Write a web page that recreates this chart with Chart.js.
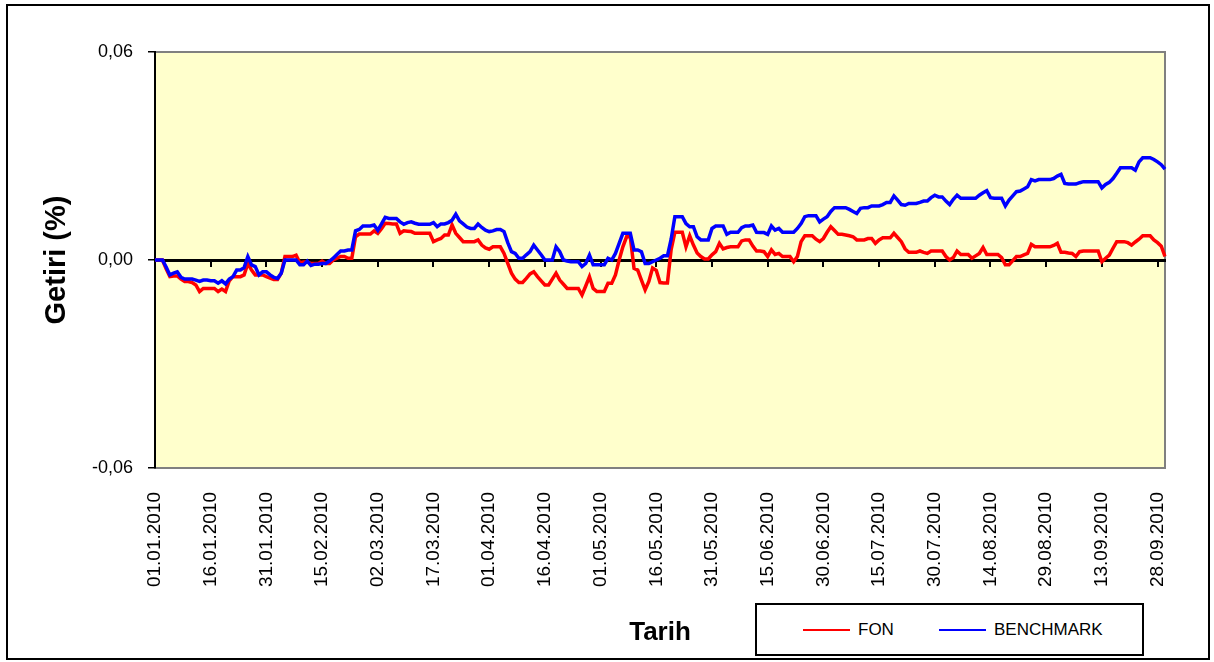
<!DOCTYPE html>
<html>
<head>
<meta charset="utf-8">
<script src="https://cdn.jsdelivr.net/npm/chart.js@4/dist/chart.umd.min.js"></script>
<style>
  html, body { margin: 0; padding: 0; background: #fff; }
  #wrap { position: relative; width: 1214px; height: 662px; background: #fff; overflow: hidden; }
  #c { position: absolute; left: 0; top: 0; }
  #frame { position: absolute; left: 6px; top: 4px; width: 1204px; height: 656px; box-sizing: border-box; border: 2px solid #000; pointer-events: none; }
  #legend { position: absolute; left: 755px; top: 603px; width: 389px; height: 53px; box-sizing: border-box; border: 2px solid #000; background: #fff;
            font-family: "Liberation Sans", Arial, sans-serif; font-size: 17px; color: #000; }
  .li { position: absolute; top: 0; height: 100%; display: flex; align-items: center; }
  .sw { display: inline-block; width: 47px; height: 2px; margin-right: 8px; }
</style>
</head>
<body>
<div id="wrap">
  <canvas id="c" width="1214" height="662"></canvas>
  <div id="frame"></div>
  <div id="legend">
    <div class="li" style="left:46px"><span class="sw" style="background:#ff0000"></span><span>FON</span></div>
    <div class="li" style="left:182px"><span class="sw" style="background:#0000ff"></span><span>BENCHMARK</span></div>
  </div>
</div>
<script>
// ---- data ----
const startDate = '2010-01-01';
const dayCount = 273; // 01.01.2010 .. 30.09.2010, daily
const tickEvery = 15;
const tickLabels = ['01.01.2010','16.01.2010','31.01.2010','15.02.2010','02.03.2010','17.03.2010','01.04.2010','16.04.2010','01.05.2010','16.05.2010','31.05.2010','15.06.2010','30.06.2010','15.07.2010','30.07.2010','14.08.2010','29.08.2010','13.09.2010','28.09.2010'];
const yTicks = [-0.06, 0, 0.06];

const fon = [0,0,0,-0.0025,-0.0048,-0.0046,-0.0046,-0.0055,-0.0062,-0.0062,
 -0.0065,-0.0072,-0.0091,-0.0082,-0.0082,-0.0082,-0.0082,-0.0091,-0.0084,-0.0091,
 -0.0060,-0.0048,-0.0048,-0.0048,-0.0043,-0.0010,-0.0029,-0.0043,-0.0043,-0.0043,
 -0.0048,-0.0052,-0.0056,-0.0056,-0.0038,0.0010,0.0010,0.0010,0.0014,-0.0008,
 -0.0006,-0.0005,-0.0010,-0.0010,-0.0010,-0.0003,-0.0010,-0.0010,0,0.0005,
 0.0010,0.0010,0.0005,0.0005,0.0067,0.0075,0.0075,0.0075,0.0075,0.0084,
 0.0077,0.0090,0.0106,0.0105,0.0104,0.0104,0.0077,0.0084,0.0083,0.0082,
 0.0077,0.0077,0.0077,0.0077,0.0077,0.0053,0.0058,0.0062,0.0072,0.0072,
 0.0101,0.0077,0.0065,0.0053,0.0053,0.0053,0.0053,0.0058,0.0043,0.0035,
 0.0031,0.0038,0.0038,0.0038,0.0019,-0.0010,-0.0038,-0.0055,-0.0065,-0.0065,
 -0.0053,-0.0040,-0.0034,-0.0048,-0.0060,-0.0072,-0.0072,-0.0055,-0.0038,-0.0058,
 -0.0070,-0.0082,-0.0082,-0.0082,-0.0082,-0.0101,-0.0075,-0.0048,-0.0082,-0.0091,
 -0.0091,-0.0091,-0.0067,-0.0067,-0.0043,0,0.0038,0.0067,0.0067,-0.0024,
 -0.0029,-0.0058,-0.0086,-0.0062,-0.0023,-0.0030,-0.0065,-0.0066,-0.0066,0.0030,
 0.0080,0.0080,0.0080,0.0038,0.0070,0.0043,0.0020,0.0010,0.0003,0.0003,
 0.0015,0.0024,0.0048,0.0032,0.0036,0.0038,0.0038,0.0038,0.0055,0.0058,
 0.0058,0.0040,0.0026,0.0026,0.0024,0.0010,0.0029,0.0016,0.0019,0.0010,
 0.0010,0.0010,-0.0005,0.0010,0.0053,0.0070,0.0070,0.0070,0.0060,0.0053,
 0.0062,0.0080,0.0096,0.0085,0.0074,0.0074,0.0072,0.0070,0.0067,0.0058,
 0.0058,0.0058,0.0062,0.0062,0.0048,0.0058,0.0064,0.0064,0.0064,0.0077,
 0.0065,0.0053,0.0032,0.0022,0.0022,0.0022,0.0026,0.0022,0.0019,0.0026,
 0.0026,0.0026,0.0026,0.0010,0,0.0007,0.0026,0.0016,0.0016,0.0016,
 0.0005,0.0012,0.0019,0.0036,0.0016,0.0016,0.0016,0.0016,0.0007,-0.0014,
 -0.0014,-0.0002,0.0010,0.0010,0.0015,0.0019,0.0045,0.0038,0.0038,0.0038,
 0.0038,0.0038,0.0042,0.0048,0.0022,0.0022,0.0020,0.0019,0.0010,0.0024,
 0.0026,0.0026,0.0026,0.0026,0.0026,-0.0005,0.0005,0.0014,0.0034,0.0053,
 0.0053,0.0053,0.0050,0.0043,0.0052,0.0060,0.0070,0.0070,0.0070,0.0058,
 0.0050,0.0040,0.0010];

const benchmark = [0,0,0,-0.0020,-0.0043,-0.0038,-0.0034,-0.0050,-0.0055,-0.0055,
 -0.0055,-0.0058,-0.0062,-0.0058,-0.0058,-0.0060,-0.0060,-0.0067,-0.0060,-0.0069,
 -0.0055,-0.0048,-0.0029,-0.0029,-0.0022,0.0010,-0.0014,-0.0019,-0.0043,-0.0034,
 -0.0034,-0.0043,-0.0050,-0.0053,-0.0038,0,0,0,0,-0.0014,
 -0.0014,-0.0003,-0.0016,-0.0012,-0.0012,-0.0010,-0.0010,-0.0003,0.0005,0.0016,
 0.0026,0.0026,0.0029,0.0029,0.0084,0.0088,0.0098,0.0098,0.0098,0.0101,
 0.0086,0.0104,0.0123,0.0120,0.0120,0.0120,0.0110,0.0103,0.0108,0.0110,
 0.0106,0.0103,0.0103,0.0103,0.0103,0.0108,0.0096,0.0104,0.0104,0.0108,
 0.0115,0.0132,0.0113,0.0104,0.0095,0.0091,0.0091,0.0104,0.0094,0.0086,
 0.0082,0.0084,0.0088,0.0088,0.0082,0.0050,0.0024,0.0019,0.0005,0.0005,
 0.0015,0.0024,0.0043,0.0029,0.0015,0,0,0,0.0038,0.0024,
 0,-0.0003,-0.0005,-0.0005,-0.0005,-0.0019,-0.0010,0.0014,-0.0014,-0.0014,
 -0.0014,-0.0014,0.0005,0,0.0019,0.0048,0.0077,0.0077,0.0077,0.0029,
 0.0029,0.0024,-0.0010,-0.0010,-0.0005,0,0.0005,0.0012,0.0012,0.0060,
 0.0125,0.0125,0.0125,0.0105,0.0096,0.0096,0.0067,0.0058,0.0058,0.0058,
 0.0091,0.0098,0.0098,0.0098,0.0074,0.0080,0.0080,0.0080,0.0093,0.0098,
 0.0098,0.0101,0.0080,0.0079,0.0079,0.0074,0.0098,0.0086,0.0091,0.0080,
 0.0080,0.0080,0.0080,0.0091,0.0105,0.0125,0.0128,0.0128,0.0128,0.0110,
 0.0118,0.0125,0.0140,0.0151,0.0151,0.0151,0.0151,0.0146,0.0140,0.0134,
 0.0149,0.0151,0.0151,0.0156,0.0156,0.0156,0.0160,0.0166,0.0166,0.0185,
 0.0173,0.0160,0.0158,0.0163,0.0163,0.0163,0.0166,0.0170,0.0170,0.0180,
 0.0187,0.0182,0.0182,0.0170,0.0160,0.0175,0.0187,0.0178,0.0178,0.0178,
 0.0178,0.0178,0.0187,0.0194,0.0200,0.0180,0.0178,0.0178,0.0178,0.0156,
 0.0173,0.0185,0.0197,0.0199,0.0205,0.0211,0.0232,0.0228,0.0232,0.0232,
 0.0232,0.0232,0.0235,0.0242,0.0247,0.0221,0.0219,0.0219,0.0219,0.0223,
 0.0226,0.0226,0.0226,0.0226,0.0226,0.0208,0.0218,0.0224,0.0235,0.0250,
 0.0266,0.0266,0.0266,0.0266,0.0259,0.0283,0.0295,0.0295,0.0295,0.0290,
 0.0283,0.0275,0.0262];

// category labels: one per day
function buildDates(start, n) {
  const out = [];
  const d0 = new Date(start + 'T00:00:00Z');
  for (let i = 0; i < n; i++) {
    const d = new Date(d0.getTime() + i * 86400000);
    const dd = String(d.getUTCDate()).padStart(2, '0');
    const mm = String(d.getUTCMonth() + 1).padStart(2, '0');
    out.push(dd + '.' + mm + '.' + d.getUTCFullYear());
  }
  return out;
}
const dates = buildDates(startDate, dayCount);

const FONT = '"Liberation Sans", Arial, sans-serif';

const plotBg = {
  id: 'plotBg',
  beforeDraw(chart) {
    const {ctx, chartArea: a} = chart;
    ctx.save();
    ctx.fillStyle = '#FFFFCC';
    ctx.fillRect(a.left, a.top, a.right - a.left, a.bottom - a.top);
    ctx.strokeStyle = '#808080';
    ctx.lineWidth = 2;
    ctx.strokeRect(a.left, a.top, a.right - a.left, a.bottom - a.top);
    ctx.restore();
  }
};

const keepEvery = s => { s.ticks = s.ticks.filter(t => t.value % tickEvery === 0); };

new Chart(document.getElementById('c'), {
  type: 'line',
  data: {
    labels: dates,
    datasets: [
      { label: 'FON', data: fon, borderColor: '#ff0000', borderWidth: 3.5, pointRadius: 0, tension: 0, fill: false, order: 2 },
      { label: 'BENCHMARK', data: benchmark, borderColor: '#0000ff', borderWidth: 3.5, pointRadius: 0, tension: 0, fill: false, order: 1 }
    ]
  },
  options: {
    responsive: false,
    animation: false,
    devicePixelRatio: 1,
    layout: { padding: { top: 52, right: 49, bottom: 0, left: 0 } },
    plugins: { legend: { display: false }, tooltip: { enabled: false } },
    scales: {
      x: {
        type: 'category',
        position: 'bottom',
        offset: false,
        grid: { display: false, drawTicks: false },
        border: { display: false },
        afterBuildTicks: keepEvery,
        afterFit: s => { s.height = 194; },
        ticks: {
          autoSkip: false, minRotation: 90, maxRotation: 90, padding: 24,
          color: '#000', font: { family: FONT, size: 19 },
          callback: function(v) { return tickLabels[v / tickEvery] || this.getLabelForValue(v); }
        },
        title: { display: true, text: 'Tarih', color: '#000', font: { family: FONT, size: 26, weight: 'bold' }, padding: { top: 0, bottom: 14 } }
      },
      x2: {
        type: 'category',
        axis: 'x',
        position: { y: 0 },
        offset: false,
        afterBuildTicks: keepEvery,
        grid: { display: true, drawOnChartArea: false, drawTicks: true, tickLength: 5, color: '#000', lineWidth: 2 },
        border: { display: true, color: '#000', width: 3 },
        ticks: { display: false, autoSkip: false }
      },
      y: {
        type: 'linear',
        position: 'left',
        min: -0.06, max: 0.06,
        afterBuildTicks: s => { s.ticks = yTicks.map(v => ({ value: v })); },
        afterFit: s => { s.width = 155; },
        grid: { display: true, drawOnChartArea: false, drawTicks: true, tickLength: 7, color: '#000', lineWidth: 1.5 },
        border: { display: true, color: '#000', width: 2 },
        ticks: {
          padding: 15, color: '#000', font: { family: FONT, size: 18 },
          callback: v => v.toFixed(2).replace('.', ',')
        },
        title: { display: true, text: 'Getiri (%)', color: '#000', font: { family: FONT, size: 29, weight: 'bold' }, padding: { top: 40, bottom: 0 } }
      }
    }
  },
  plugins: [plotBg]
});
</script>
</body>
</html>
